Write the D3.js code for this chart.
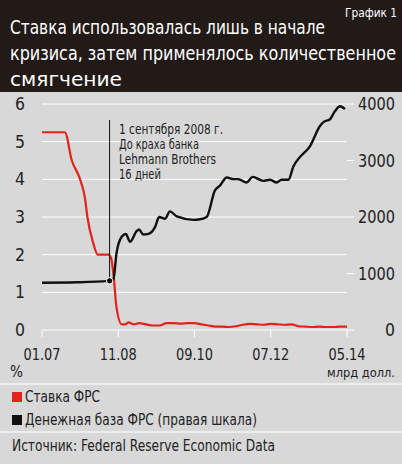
<!DOCTYPE html>
<html><head><meta charset="utf-8">
<script src="https://cdn.jsdelivr.net/npm/d3@7"></script>
<style>body{margin:0;background:#d8d8d8;} svg{display:block;font-family:"Liberation Sans Narrow","DejaVu Sans Condensed",sans-serif;}</style>
</head><body><svg id="c" width="402" height="464"></svg>
<script>
// months since Jan 2007
const rateMonths = [0,6.6,8.6,11,12.4,13.1,14.8,16.1,19.1,19.9,20.6,21.5,23,24,25,26.5,28,30,32,34,36,38,40,42,44,46,48,50,52,54,56,58,60,62,64,66,68,70,72,74,76,78,80,82,84,86,88];
const rateValues = [5.25,5.25,4.5,4.0,3.5,3.0,2.3,2.0,2.0,1.92,1.5,0.6,0.15,0.15,0.2,0.15,0.18,0.15,0.12,0.12,0.18,0.18,0.17,0.18,0.18,0.15,0.12,0.09,0.09,0.08,0.1,0.14,0.16,0.15,0.14,0.16,0.15,0.14,0.15,0.1,0.09,0.08,0.09,0.08,0.08,0.09,0.09];
const baseMonths = [0,10,19.1,20.6,21.5,23,24.2,25.4,27.3,28,29.2,30.7,32.6,33.8,35.5,36.9,38.9,43.7,45.6,47.5,49.9,51.4,53.3,55.2,56.6,59,60.8,63.8,65.8,67.7,69.1,71.1,72.5,74.4,77.3,80.2,81.2,83.1,84.5,86,87.4];
const baseValues = [837,845,870,900,1360,1650,1700,1560,1750,1780,1690,1700,1820,2000,1970,2100,2010,1950,1960,2000,2470,2560,2700,2670,2670,2610,2710,2640,2660,2610,2660,2660,2890,3060,3250,3610,3680,3730,3870,3960,3910];
const xTickMonths = [0,22,44,66,88];
const xTickLabels = ["01.07","11.08","09.10","07.12","05.14"];
const leftTicks = [0,1,2,3,4,5,6];
const rightTicks = [0,1000,2000,3000,4000];
const eventMonth = 19.5;
const noteLines = ["1 сентября 2008 г.","До краха банка","Lehmann Brothers","16 дней"];
const noteWidths = [104,80,97,42];
const titleLines = ["Ставка использовалась лишь в начале","кризиса, затем применялось количественное","смягчение"];
const titleWidths = [315,386,112];

const svg = d3.select("#c");
function txt(xp,yp,s,size,w,anchor,fill){
  const t=svg.append("text").attr("x",xp).attr("y",yp).attr("font-size",size).attr("fill",fill||"#222").attr("text-anchor",anchor||"start").text(s);
  if(w) t.attr("textLength",w).attr("lengthAdjust","spacingAndGlyphs");
  return t;
}
svg.append("rect").attr("width",402).attr("height",92).attr("fill","#221a17");
titleLines.forEach((t,i)=>txt(10,34+i*26,t,20,titleWidths[i],"start","#fff"));
txt(345,17,"График 1",13,52,"start","#fff");

const x = d3.scaleLinear().domain([0,88]).range([42,347]);
const yL = d3.scaleLinear().domain([0,6]).range([330,104]);
const yR = d3.scaleLinear().domain([0,4000]).range([330,104]);

svg.append("g").selectAll("line").data(leftTicks).join("line")
 .attr("x1",42).attr("x2",347).attr("y1",d=>yL(d)).attr("y2",d=>yL(d)).attr("stroke","#fff").attr("stroke-width",1);
svg.append("g").selectAll("line").data(rightTicks).join("line")
 .attr("x1",347).attr("x2",354).attr("y1",d=>yR(d)).attr("y2",d=>yR(d)).attr("stroke","#fff").attr("stroke-width",1);
svg.append("g").selectAll("line").data(xTickMonths).join("line")
 .attr("x1",d=>x(d)).attr("x2",d=>x(d)).attr("y1",330).attr("y2",337).attr("stroke","#fff");

leftTicks.forEach(d=>txt(20,yL(d)+6,d,17,10,"middle"));
rightTicks.forEach(d=>txt(395,yR(d)+6,d,17,d?37:10,"end"));
xTickMonths.forEach((d,i)=>txt(x(d),360,xTickLabels[i],16,37,"middle"));
txt(10,377,"%",15,13);
txt(395,377,"млрд долл.",13,68,"end");

const line = d3.line().curve(d3.curveMonotoneX);
svg.append("path").attr("d",line(rateMonths.map((m,i)=>[x(m),yL(rateValues[i])])))
 .attr("fill","none").attr("stroke","#e2231a").attr("stroke-width",2.2);
svg.append("path").attr("d",line(baseMonths.map((m,i)=>[x(m),yR(baseValues[i])])))
 .attr("fill","none").attr("stroke","#111").attr("stroke-width",2.4);

svg.append("line").attr("x1",x(eventMonth)).attr("x2",x(eventMonth)).attr("y1",120).attr("y2",yR(870)).attr("stroke","#111").attr("stroke-width",1);
svg.append("circle").attr("cx",x(eventMonth)).attr("cy",yR(870)).attr("r",3.2).attr("fill","#111").attr("stroke","#fff").attr("stroke-width",1);
noteLines.forEach((t,i)=>txt(119,134+i*15,t,14,noteWidths[i]));

[384,432].forEach(y=>svg.append("line").attr("x1",0).attr("x2",402).attr("y1",y).attr("y2",y).attr("stroke","#f4f4f4").attr("stroke-width",1.5));
svg.append("rect").attr("x",12).attr("y",392).attr("width",10).attr("height",10).attr("fill","#e2231a");
txt(25,402,"Ставка ФРС",15,75);
svg.append("rect").attr("x",12).attr("y",415).attr("width",10).attr("height",10).attr("fill","#111");
txt(25,425,"Денежная база ФРС (правая шкала)",15,232);
txt(12,451,"Источник: Federal Reserve Economic Data",15,263);
</script></body></html>
